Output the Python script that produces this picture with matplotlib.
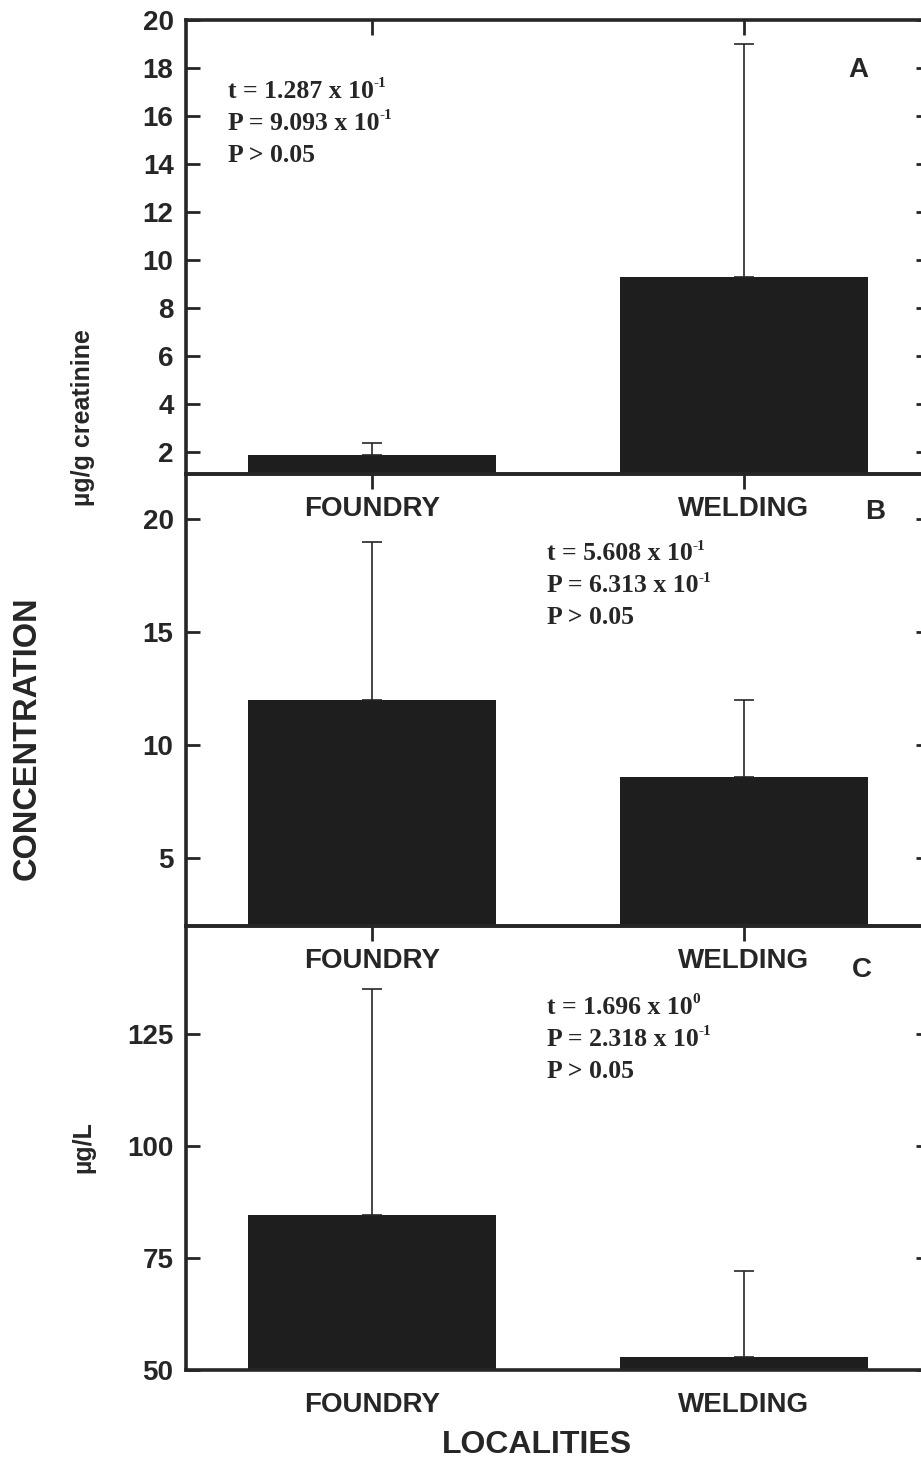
import matplotlib.pyplot as plt
import numpy as np

# values
categories = ['FOUNDRY', 'WELDING']

means_a = [1.9, 9.3]      # µg/g creatinine
upper_a = [0.5, 9.7]
means_b = [12.0, 8.6]
upper_b = [7.0, 3.4]
means_c = [84.5, 52.8]    # µg/L
upper_c = [50.5, 19.2]

ticks_a = [2, 4, 6, 8, 10, 12, 14, 16, 18, 20]
ticks_b = [5, 10, 15, 20]
ticks_c = [50, 75, 100, 125]

stats_a = [('t = 1.287 x 10', '-1'), ('P = 9.093 x 10', '-1'), ('P > 0.05', '')]
stats_b = [('t = 5.608 x 10', '-1'), ('P = 6.313 x 10', '-1'), ('P > 0.05', '')]
stats_c = [('t = 1.696 x 10', '0'), ('P = 2.318 x 10', '-1'), ('P > 0.05', '')]

W, H = 921, 1459
ink = '#262626'
sans = 'Liberation Sans'
serif = 'Liberation Serif'

fig = plt.figure(figsize=(W / 100, H / 100), dpi=100)


def px(x, y):
    return x / W, 1 - y / H


def panel(rect, means, upper, ylim, yticks, letter, letter_xy, stats, stats_xy):
    ax = fig.add_axes(rect)
    ax.patch.set_visible(False)
    x = np.arange(len(categories))
    ax.bar(x, means, width=0.665, color='#1e1e1e', zorder=2)
    ax.errorbar(x, means, yerr=[np.zeros(len(means)), upper], fmt='none',
                ecolor=ink, elinewidth=1.2, capsize=7.5, capthick=1.2, zorder=3)
    ax.set_xlim(-0.5, 1.5)
    ax.set_ylim(*ylim)
    ax.set_yticks(yticks)
    ax.set_xticks(x)
    ax.set_xticklabels(categories)
    for s in ax.spines.values():
        s.set_linewidth(2.6)
        s.set_color(ink)
    ax.tick_params(axis='y', direction='in', length=10, width=2, colors=ink,
                   left=True, right=True, labelsize=20, pad=9)
    ax.tick_params(axis='x', direction='in', length=11, width=2, colors=ink,
                   top=True, bottom=False, labelbottom=True, labelsize=20, pad=16)
    for lab in ax.get_xticklabels() + ax.get_yticklabels():
        lab.set_fontfamily(sans)
        lab.set_fontweight('bold')
    fig.text(*px(*letter_xy), letter, fontsize=20, fontweight='bold',
             family=sans, color=ink, ha='center', va='center')
    sx, sy = stats_xy
    for i, (main, exp) in enumerate(stats):
        t = fig.text(*px(sx, sy + 32 * i), main, fontsize=18.5, fontweight='bold',
                     family=serif, color=ink, ha='left', va='center')
        if exp:
            ax.annotate(exp, xy=(1.0, 0.55), xycoords=t, fontsize=11,
                        fontweight='bold', family=serif, color=ink,
                        ha='left', va='bottom')
    return ax


left, width = 186 / W, (930 - 186) / W
panel([left, 1 - 474 / H, width, 454 / H], means_a, upper_a, (1.1, 20), ticks_a,
      'A', (858, 70), stats_a, (228, 91))
panel([left, 1 - 926 / H, width, 452 / H], means_b, upper_b, (2, 22), ticks_b,
      'B', (875, 512), stats_b, (547, 554))
panel([left, 1 - 1370 / H, width, 444 / H], means_c, upper_c, (50, 149), ticks_c,
      'C', (862, 970), stats_c, (547, 1007))

fig.text(*px(27, 738), 'CONCENTRATION', rotation=90, fontsize=23.5, fontweight='bold',
         family=sans, color=ink, ha='center', va='center')
fig.text(*px(83, 418), 'µg/g creatinine', rotation=90, fontsize=18, fontweight='bold',
         family=sans, color=ink, ha='center', va='center')
fig.text(*px(83, 1147), 'µg/L', rotation=90, fontsize=18, fontweight='bold',
         family=sans, color=ink, ha='center', va='center')
fig.text(*px(537, 1445), 'LOCALITIES', fontsize=23, fontweight='bold',
         family=sans, color=ink, ha='center', va='center')

fig.savefig('out.png', dpi=100)
